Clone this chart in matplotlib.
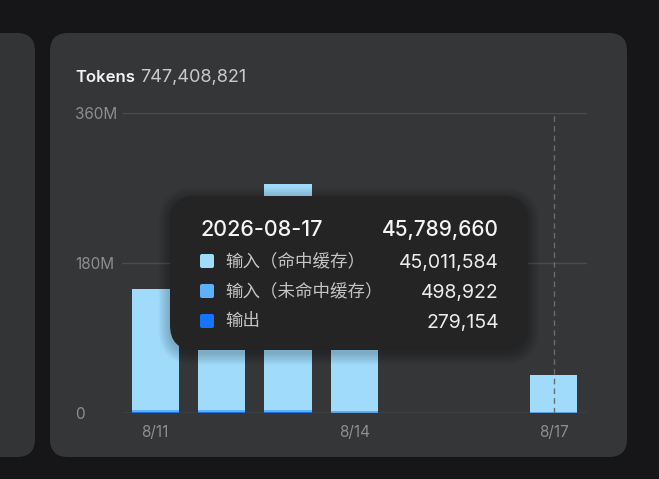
import matplotlib
matplotlib.use("Agg")
import matplotlib.pyplot as plt
from matplotlib.patches import FancyBboxPatch
import numpy as np

plt.rcParams['font.family'] = ['Inter', 'Noto Sans CJK SC', 'DejaVu Sans']

# ---- data ----
dates = ["8/11", "8/12", "8/13", "8/14", "8/15", "8/16", "8/17"]
cache_hit = [145.0e6, 146.5e6, 271.0e6, 126.1e6, 0, 0, 45_011_584]
cache_miss = [2.3e6, 2.0e6, 2.3e6, 1.5e6, 0, 0, 498_922]
output = [1.5e6, 1.5e6, 1.5e6, 0.4e6, 0, 0, 279_154]
xtick_show = ["8/11", "8/14", "8/17"]
yticks = [0, 180e6, 360e6]
ytick_labels = ["0", "180M", "360M"]
title = "Tokens"
total_text = "747,408,821"
tip_date = "2026-08-17"
tip_total = "45,789,660"
series_names = ["输入（命中缓存）", "输入（未命中缓存）", "输出"]
tip_values = ["45,011,584", "498,922", "279,154"]
hover_idx = 6

C_HIT = "#a1dbfb"
C_MISS = "#5bb1ff"
C_OUT = "#1473ff"

W, H = 659, 479
fig = plt.figure(figsize=(W / 100, H / 100), dpi=100)
fig.patch.set_facecolor("#161618")

bg = fig.add_axes([0, 0, 1, 1], zorder=0)
bg.set_xlim(0, W); bg.set_ylim(H, 0); bg.axis("off")

def rbox(ax, x0, y0, x1, y1, r, color, **kw):
    p = FancyBboxPatch((x0 + r, y0 + r), (x1 - x0) - 2 * r, (y1 - y0) - 2 * r,
                       boxstyle=f"round,pad={r}", fc=color, ec="none", **kw)
    ax.add_patch(p)
    return p

rbox(bg, -40, 33, 35, 457, 18, "#333436")
rbox(bg, 50, 33, 627, 457, 18, "#353638")

t = bg.text(75, 76, title, color="#f2f2f2", fontsize=12, fontweight="semibold",
            va="center_baseline", ha="left")
bg.annotate(total_text, xy=(1, 0.5), xycoords=t, xytext=(4, 0), textcoords="offset points",
            color="#c9c9c9", fontsize=13, va="center", ha="left")

# ---- chart axes ----
ax = fig.add_axes([122 / W, (H - 413) / H, 465 / W, 300 / H], zorder=1)
ax.set_facecolor("none")
x = np.arange(len(dates))
ax.set_xlim(-0.5, len(dates) - 0.5)
ax.set_ylim(0, 360e6)
for s in ax.spines.values():
    s.set_visible(False)
for yv in yticks[1:]:
    ax.axhline(yv, color="#4b4c4f", lw=1, zorder=0)
ax.axhline(0, color="#5e5f62", lw=1, zorder=3)

bw = 0.71
b0 = np.array(output)
b1 = b0 + np.array(cache_miss)
ax.bar(x, output, width=bw, color=C_OUT, zorder=2)
ax.bar(x, cache_miss, width=bw, bottom=b0, color=C_MISS, zorder=2)
ax.bar(x, cache_hit, width=bw, bottom=b1, color=C_HIT, zorder=2)

ax.axvline(x[hover_idx], color="#6a6b6e", lw=1, ls=(0, (4, 3)), zorder=4)

ax.set_yticks([])
ax.set_xticks([dates.index(d) for d in xtick_show])
ax.set_xticklabels(xtick_show, color="#8e8e90", fontsize=11)
ax.tick_params(axis="x", length=0, pad=8.5)
for yv, lab in zip(yticks, ytick_labels):
    ax.text(-0.5 - 47 / 66.43, yv, lab, color="#8e8e90", fontsize=11, ha="left",
            va="center_baseline", transform=ax.transData)

# ---- tooltip overlay ----
ov = fig.add_axes([0, 0, 1, 1], zorder=10)
ov.set_facecolor("none")
ov.set_xlim(0, W); ov.set_ylim(H, 0); ov.axis("off")
for i in range(8):
    e = 1 + i * 1.5
    rbox(ov, 170 - e, 196 - e + 3, 528 + e, 350 + e + 3, 25 + e, "#000000", alpha=0.028)
rbox(ov, 170, 196, 528, 350, 25, "#242424")

ov.text(200, 228, tip_date, color="#f4f4f4", fontsize=15.5, fontweight="medium",
        ha="left", va="center_baseline")
ov.text(499, 228, tip_total, color="#f4f4f4", fontsize=15, fontweight="medium",
        ha="right", va="center_baseline")
cols = [C_HIT, C_MISS, C_OUT]
for k, (nm, val, c) in enumerate(zip(series_names, tip_values, cols)):
    yy = 261 + 30 * k
    rbox(ov, 200, yy - 7, 214, yy + 7, 2, c)
    ov.text(225, yy, nm, color="#c4c4c4", fontsize=12.6, ha="left", va="center",
            family=["Noto Sans CJK SC", "DejaVu Sans"])
    ov.text(499, yy, val, color="#ececec", fontsize=14, ha="right", va="center_baseline")

fig.savefig("out.png", dpi=100, facecolor=fig.get_facecolor())
